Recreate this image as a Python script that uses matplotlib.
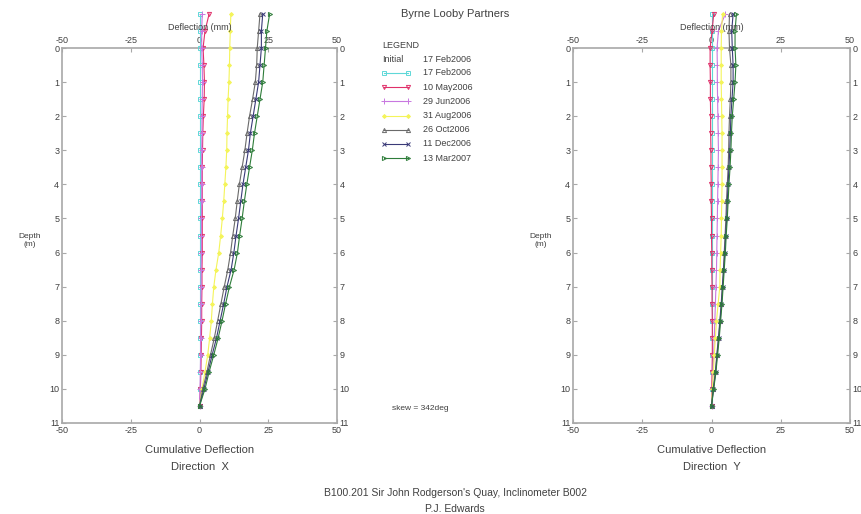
import matplotlib
matplotlib.use("Agg")
import matplotlib.pyplot as plt
import numpy as np

plt.rcParams['font.family'] = ['Liberation Sans', 'DejaVu Sans']
plt.rcParams['axes.unicode_minus'] = False

depth = [-1, -0.5, 0, 0.5, 1, 1.5, 2, 2.5, 3, 3.5, 4, 4.5, 5, 5.5, 6, 6.5,
         7, 7.5, 8, 8.5, 9, 9.5, 10, 10.5]

labels = ["17 Feb2006", "10 May2006", "29 Jun2006", "31 Aug2006",
          "26 Oct2006", "11 Dec2006", "13 Mar2007"]

# Direction X cumulative deflection (mm)
x_feb = [0]*24
x_may = [3.5, 2.0, 1.3, 1.6, 1.8, 1.7, 1.4, 1.2, 1.1, 1.0, 1.0, 1.0, 1.0, 1.0,
         1.0, 0.9, 0.9, 0.8, 0.8, 0.7, 0.6, 0.5, 0.3, 0]
x_jun = [1.0, 0.8, 0.8, 1.0, 1.1, 1.0, 0.9, 0.9, 0.8, 0.8, 0.8, 0.8, 0.7, 0.7,
         0.7, 0.6, 0.6, 0.5, 0.5, 0.4, 0.4, 0.3, 0.2, 0]
x_aug = [11.4, 11.2, 11.0, 10.9, 10.7, 10.4, 10.2, 10.0, 9.9, 9.6, 9.2, 8.8,
         8.3, 7.7, 7.0, 6.0, 5.2, 4.7, 4.3, 3.7, 3.0, 2.0, 0.9, 0]
x_oct = [22.0, 21.5, 21.0, 20.8, 20.3, 19.3, 18.2, 17.3, 16.5, 15.5, 14.5, 13.7,
         13.0, 12.1, 11.3, 10.3, 9.0, 7.8, 6.6, 5.4, 4.0, 2.7, 1.2, 0]
x_dec = [23.0, 22.5, 22.5, 22.0, 21.5, 20.5, 19.5, 18.5, 17.8, 16.8, 15.8, 15.0,
         14.2, 13.3, 12.5, 11.5, 10.0, 8.8, 7.5, 6.2, 4.6, 3.1, 1.6, 0]
x_mar = [25.5, 24.5, 24.0, 23.5, 23.0, 22.0, 21.0, 20.0, 19.2, 18.2, 17.2, 16.3,
         15.5, 14.6, 13.8, 12.6, 10.9, 9.5, 8.2, 6.8, 5.2, 3.5, 2.0, 0]

# Direction Y cumulative deflection (mm)
y_feb = [0]*24
y_may = [0.8, 0.2, -0.5, -0.5, -0.4, -0.4, -0.3, -0.3, -0.2, -0.2, -0.1, -0.1,
         0.0, 0.0, 0.1, 0.1, 0.2, 0.2, 0.3, 0.3, 0.3, 0.2, 0.1, 0]
y_jun = [5.0, 2.5, 2.0, 2.1, 2.1, 2.2, 2.3, 2.4, 2.5, 2.4, 2.3, 2.2, 2.1, 2.0,
         1.9, 1.8, 1.6, 1.4, 1.2, 1.0, 0.8, 0.5, 0.3, 0]
y_aug = [4.0, 3.6, 3.5, 3.5, 3.5, 3.6, 3.7, 3.8, 3.8, 3.8, 3.8, 3.7, 3.6, 3.5,
         3.3, 3.1, 3.0, 2.4, 1.8, 1.4, 1.0, 0.7, 0.3, 0]
y_oct = [6.5, 6.3, 6.5, 7.0, 7.0, 6.8, 6.5, 6.3, 6.2, 6.0, 5.7, 5.4, 5.2, 4.9,
         4.6, 4.3, 3.9, 3.5, 3.0, 2.5, 1.9, 1.4, 0.6, 0]
y_dec = [7.8, 7.3, 7.5, 7.8, 7.8, 7.4, 7.0, 6.8, 6.6, 6.3, 6.0, 5.7, 5.5, 5.1,
         4.8, 4.4, 4.0, 3.6, 3.1, 2.6, 2.0, 1.5, 0.7, 0]
y_mar = [9.0, 8.5, 8.5, 8.8, 8.5, 8.0, 7.5, 7.2, 7.0, 6.7, 6.3, 6.0, 5.7, 5.3,
         5.0, 4.6, 4.2, 3.8, 3.3, 2.8, 2.2, 1.6, 0.8, 0]

x_series = [x_feb, x_may, x_jun, x_aug, x_oct, x_dec, x_mar]
y_series = [y_feb, y_may, y_jun, y_aug, y_oct, y_dec, y_mar]

colors = ['#5fd8d8', '#e0306a', '#c878e0', '#f4f45a', '#6a6a6a', '#3a3a78', '#2e7d3a']
markers = ['s', 'v', '+', 'D', '^', 'x', '>']
msizes = [3, 3, 4, 2, 3, 3, 3]

txt = '#404040'
spine_c = '#a8a8a8'

fig = plt.figure(figsize=(8.61, 5.14), dpi=100)
W, H = 861, 514

def ax_rect(x0, x1, y0, y1):
    return [x0 / W, 1 - y1 / H, (x1 - x0) / W, (y1 - y0) / H]

def setup(ax):
    ax.set_xlim(-50, 50)
    ax.set_ylim(11, 0)
    ax.set_xticks([-50, -25, 0, 25, 50])
    ax.set_yticks(range(0, 12))
    ax.tick_params(axis='both', which='both', direction='in', length=3,
                   labelsize=6.5, colors=spine_c, labelcolor=txt,
                   top=True, right=True, labeltop=True, labelright=True, pad=2)
    for s in ax.spines.values():
        s.set_color(spine_c)
        s.set_linewidth(1.2)

axes_x = fig.add_axes(ax_rect(62, 337, 48, 423))
axes_y = fig.add_axes(ax_rect(573, 850, 48, 423))

def draw(ax, xs, ys, c, m, ms):
    filled = m in ('D',)
    ax.plot(xs, ys, color=c, lw=0.8, marker=m, ms=ms,
            mfc=c if filled else 'none', mec=c, mew=0.7, clip_on=False, zorder=3)

for ax, series in ((axes_x, x_series), (axes_y, y_series)):
    setup(ax)
    for vals, c, m, ms in zip(series, colors, markers, msizes):
        draw(ax, vals, depth, c, m, ms)

def ftext(x, y, s, size=7, ha='center', va='center', **kw):
    fig.text(x / W, 1 - y / H, s, fontsize=size, ha=ha, va=va, color=txt, **kw)

ftext(455, 14, "Byrne Looby Partners", 8)
ftext(200, 28, "Deflection (mm)", 6.5)
ftext(712, 28, "Deflection (mm)", 6.5)
ftext(30, 241, "Depth\n(m)", 6, linespacing=1.2)
ftext(541, 241, "Depth\n(m)", 6, linespacing=1.2)
ftext(200, 450, "Cumulative Deflection", 8)
ftext(200, 467, "Direction  X", 8)
ftext(712, 450, "Cumulative Deflection", 8)
ftext(712, 467, "Direction  Y", 8)
ftext(455, 493, "B100.201 Sir John Rodgerson's Quay, Inclinometer B002", 7.5)
ftext(455, 509, "P.J. Edwards", 7.5)
ftext(420, 409, "skew = 342deg", 6)

# Legend
ftext(382, 46, "LEGEND", 6.5, ha='left')
ftext(382, 60, "Initial", 6.5, ha='left')
ftext(423, 60, "17 Feb2006", 6.5, ha='left')
leg_ax = fig.add_axes([0, 0, 1, 1], facecolor='none')
leg_ax.set_xlim(0, W)
leg_ax.set_ylim(H, 0)
leg_ax.axis('off')
for i, (lab, c, m, ms) in enumerate(zip(labels, colors, markers, msizes)):
    yy = 73 + i * 14.2
    draw(leg_ax, [384, 408], [yy, yy], c, m, ms)
    ftext(423, yy, lab, 6.5, ha='left')

fig.savefig("out.png", dpi=100)
